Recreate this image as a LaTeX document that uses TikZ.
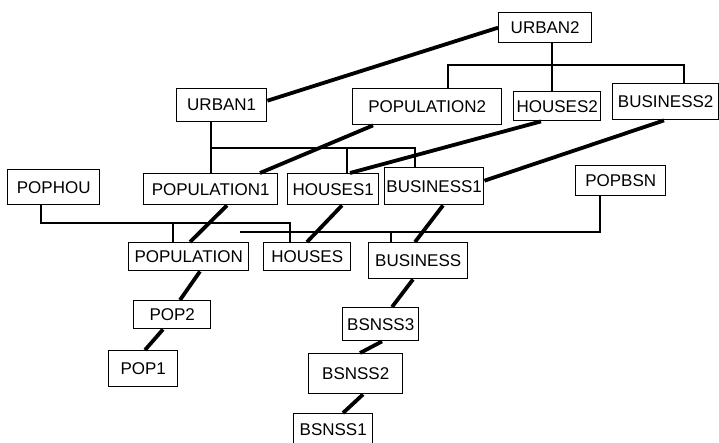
\documentclass[tikz,border=0pt]{standalone}
\usepackage{fontspec}
\setmainfont{Liberation Sans}
\begin{document}
\begin{tikzpicture}[x=1pt,y=-1pt,
  box/.style={draw=black, line width=1.4pt, inner sep=0pt, anchor=north west,
    font=\fontsize{17}{17}\selectfont},
  tree/.style={draw=black, line width=1.4pt},
  link/.style={draw=black, line width=3.8pt},
]
\useasboundingbox (0,0) rectangle (719,442);
% boxes
\node[box, minimum width=93,  minimum height=30] (urban2)      at (498,12)  {URBAN2};
\node[box, minimum width=90,  minimum height=33] (urban1)      at (176,88)  {URBAN1};
\node[box, minimum width=149, minimum height=36] (population2) at (352,88)  {POPULATION2};
\node[box, minimum width=87,  minimum height=29] (houses2)     at (513,91)  {HOUSES2};
\node[box, minimum width=106, minimum height=36] (business2)   at (612,83)  {BUSINESS2};
\node[box, minimum width=92,  minimum height=35] (pophou)      at (7,169)   {POPHOU};
\node[box, minimum width=134, minimum height=31] (population1) at (143,173) {POPULATION1};
\node[box, minimum width=91,  minimum height=31] (houses1)     at (287,173) {HOUSES1};
\node[box, minimum width=99,  minimum height=37] (business1)   at (384,167) {BUSINESS1};
\node[box, minimum width=90,  minimum height=30] (popbsn)      at (575,165) {POPBSN};
\node[box, minimum width=120, minimum height=28] (population)  at (128,242) {POPULATION};
\node[box, minimum width=87,  minimum height=28] (houses)      at (263,242) {HOUSES};
\node[box, minimum width=99,  minimum height=36] (business)    at (368,242) {BUSINESS};
\node[box, minimum width=77,  minimum height=28] (pop2)        at (133,300) {POP2};
\node[box, minimum width=69,  minimum height=36] (pop1)        at (108,350) {POP1};
\node[box, minimum width=76,  minimum height=33] (bsnss3)      at (342,307) {BSNSS3};
\node[box, minimum width=94,  minimum height=40] (bsnss2)      at (308,353) {BSNSS2};
\node[box, minimum width=79,  minimum height=31] (bsnss1)      at (293,413) {BSNSS1};
% bus levels
\coordinate (bus2) at (0,65);
\coordinate (bus1) at (0,148);
\coordinate (bus3) at (0,223);
\coordinate (bus4) at (240,232);
% URBAN2 tree
\coordinate (u2d) at ([xshift=54]urban2.south west);
\coordinate (p2u) at ([xshift=96]population2.north west);
\coordinate (b2u) at ([xshift=72]business2.north west);
\draw[tree] (u2d) -- (u2d |- houses2.north);
\draw[tree] (p2u) -- (p2u |- bus2) -- (b2u |- bus2) -- (b2u);
% URBAN1 tree
\coordinate (u1d) at ([xshift=35]urban1.south west);
\coordinate (h1u) at ([xshift=60]houses1.north west);
\coordinate (b1u) at ([xshift=31]business1.north west);
\draw[tree] (u1d) -- (u1d |- population1.north);
\draw[tree] (u1d |- bus1) -- (b1u |- bus1) -- (b1u);
\draw[tree] (h1u |- bus1) -- (h1u);
% POPHOU tree
\coordinate (phd) at ([xshift=34]pophou.south west);
\coordinate (pu)  at ([xshift=45]population.north west);
\coordinate (hu)  at ([xshift=27]houses.north west);
\draw[tree] (phd) -- (phd |- bus3) -- (hu |- bus3) -- (hu);
\draw[tree] (pu |- bus3) -- (pu);
% POPBSN tree
\coordinate (pbd) at ([xshift=25]popbsn.south west);
\coordinate (bu)  at ([xshift=23]business.north west);
\draw[tree] (pbd) -- (pbd |- bus4) -- (bus4);
\draw[tree] (bu |- bus4) -- (bu);
% thick links
\draw[link] ([yshift=4.5]urban1.east) -- (urban2.west);
\draw[link] ([xshift=117]population1.north west) -- ([xshift=21]population2.south west);
\draw[link] ([xshift=63]houses1.north west) -- ([xshift=28]houses2.south west);
\draw[link] ([yshift=5.5]business1.east) -- ([xshift=52]business2.south west);
\draw[link] ([xshift=84]population1.south west) -- ([xshift=62]population.north west);
\draw[link] ([xshift=55]houses1.south west) -- ([xshift=44]houses.north west);
\draw[link] ([xshift=59]business1.south west) -- ([xshift=47]business.north west);
\draw[link] ([xshift=72]population.south west) -- ([xshift=47]pop2.north west);
\draw[link] ([xshift=30]pop2.south west) -- ([xshift=37]pop1.north west);
\draw[link] ([xshift=45]business.south west) -- ([xshift=50]bsnss3.north west);
\draw[link] ([xshift=40]bsnss3.south west) -- ([xshift=52]bsnss2.north west);
\draw[link] ([xshift=55]bsnss2.south west) -- ([xshift=50]bsnss1.north west);
\end{tikzpicture}
\end{document}
